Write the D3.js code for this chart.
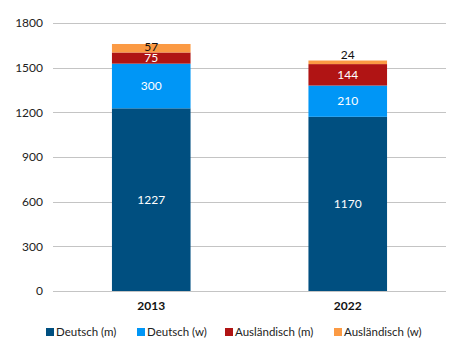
<!DOCTYPE html>
<html>
<head>
<meta charset="utf-8">
<script src="https://cdn.jsdelivr.net/npm/d3@7"></script>
<style>
  body { margin: 0; background: #fff; }
  svg { font-family: Lato, "Open Sans", sans-serif; }
</style>
</head>
<body>
<div id="chart"></div>
<script>
var years = ["2013", "2022"];
var seriesNames = ["Deutsch (m)", "Deutsch (w)", "Ausländisch (m)", "Ausländisch (w)"];
var deutschM = [1227, 1170];
var deutschW = [300, 210];
var auslM = [75, 144];
var auslW = [57, 24];
var yTicks = [0, 300, 600, 900, 1200, 1500, 1800];

var colors = ["#004f80", "#0096f6", "#b01414", "#fb9a44"];
var labelColors = ["#fff", "#fff", "#fff", "#111"];

var width = 465, height = 358;
var margin = { top: 23, right: 19, bottom: 67, left: 53 };

var rows = years.map(function(y, i) {
  return { year: y, "Deutsch (m)": deutschM[i], "Deutsch (w)": deutschW[i],
           "Ausländisch (m)": auslM[i], "Ausländisch (w)": auslW[i] };
});
var stacked = d3.stack().keys(seriesNames)(rows);

var x = d3.scaleBand().domain(years)
  .range([margin.left, width - margin.right])
  .paddingInner(0.6).paddingOuter(0.3);
var y = d3.scaleLinear().domain([0, 1800])
  .range([height - margin.bottom, margin.top]);

var svg = d3.select("#chart").append("svg")
  .attr("width", width).attr("height", height);

// grid
svg.append("g").selectAll("line").data(yTicks).join("line")
  .attr("x1", margin.left).attr("x2", width - margin.right)
  .attr("y1", function(d) { return Math.round(y(d)) + 0.5; })
  .attr("y2", function(d) { return Math.round(y(d)) + 0.5; })
  .attr("stroke", "#c4c4c4").attr("stroke-width", 1);

// y axis labels
svg.append("g").selectAll("text").data(yTicks).join("text")
  .attr("x", 43).attr("y", function(d) { return y(d); })
  .attr("dy", "0.35em").attr("text-anchor", "end")
  .attr("font-size", 12).attr("fill", "#222")
  .text(function(d) { return d; });

// bars
var layers = svg.append("g").selectAll("g").data(stacked).join("g")
  .attr("fill", function(d, i) { return colors[i]; });
layers.selectAll("rect").data(function(d) { return d; }).join("rect")
  .attr("x", function(d) { return x(d.data.year); })
  .attr("width", x.bandwidth())
  .attr("y", function(d) { return y(d[1]); })
  .attr("height", function(d) { return y(d[0]) - y(d[1]); });

// value labels (tiny segments get their label just above)
stacked.forEach(function(layer, i) {
  svg.append("g").selectAll("text").data(layer).join("text")
    .attr("x", function(d) { return x(d.data.year) + x.bandwidth() / 2; })
    .attr("y", function(d) {
      var top = y(d[1]), bot = y(d[0]);
      if (bot - top < 6) return top - 6;
      return (top + bot) / 2 - (bot - top < 10 ? 1 : 0);
    })
    .attr("dy", "0.35em").attr("text-anchor", "middle")
    .attr("font-size", 12).attr("fill", labelColors[i])
    .text(function(d) { return d[1] - d[0]; });
});

// x axis labels
svg.append("g").selectAll("text").data(years).join("text")
  .attr("x", function(d) { return x(d) + x.bandwidth() / 2; })
  .attr("y", 306).attr("dy", "0.35em").attr("text-anchor", "middle")
  .attr("font-size", 12).attr("font-weight", "bold").attr("fill", "#111")
  .text(function(d) { return d; });

// legend
var legendX = [46, 137, 225, 334];
var lg = svg.append("g").selectAll("g").data(seriesNames).join("g")
  .attr("transform", function(d, i) { return "translate(" + legendX[i] + ",332)"; });
lg.append("rect").attr("x", 0).attr("y", -4).attr("width", 8).attr("height", 8)
  .attr("fill", function(d, i) { return colors[i]; });
lg.append("text").attr("x", 10).attr("y", 0).attr("dy", "0.35em")
  .attr("font-size", 11.5).attr("fill", "#222")
  .text(function(d) { return d; });
</script>
</body>
</html>
